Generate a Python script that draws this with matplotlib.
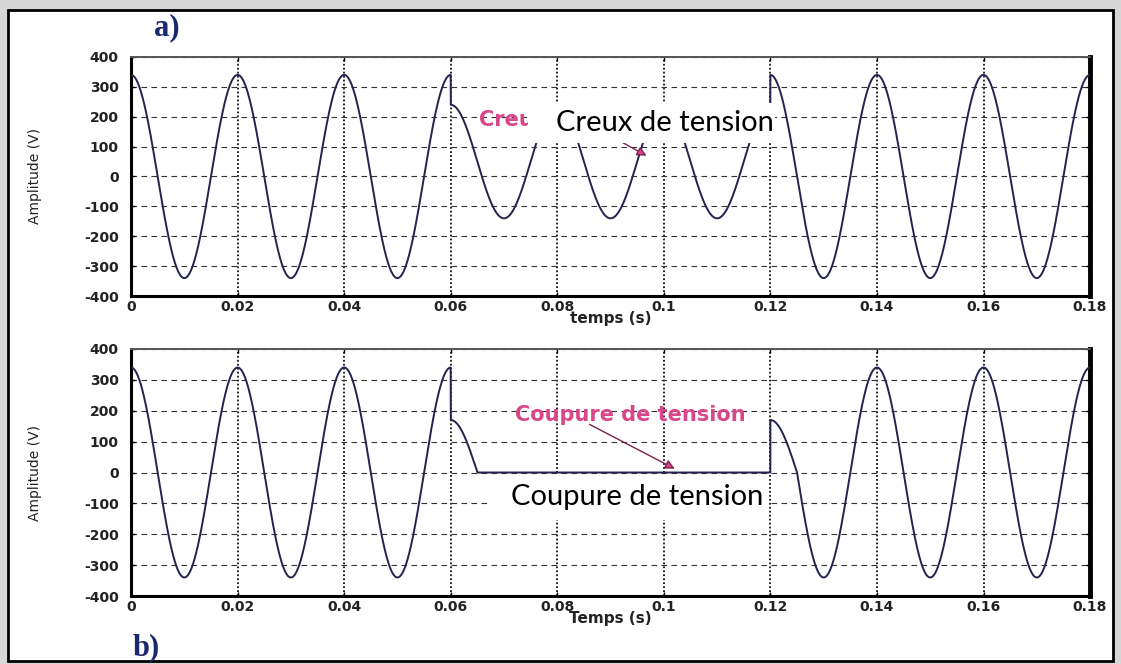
import numpy as np
import matplotlib
matplotlib.use("Agg")
import matplotlib.pyplot as plt
from matplotlib.patches import Rectangle

# signal: 50 Hz, piecewise amplitude / dc offset
FREQ = 50.0
T_END = 0.18

# a) creux de tension (sag between 0.06 and 0.12 s)
sag_edges = [0.0, 0.06, 0.12, 0.18]
sag_amp = [340, 190, 340]
sag_offset = [0, 50, 0]

# b) coupure de tension (interruption between ~0.065 and 0.12 s)
cut_edges = [0.0, 0.06, 0.065, 0.12, 0.125, 0.18]
cut_amp = [340, 170, 0, 170, 340]
cut_offset = [0, 0, 0, 0, 0]

xticks = [0, 0.02, 0.04, 0.06, 0.08, 0.1, 0.12, 0.14, 0.16, 0.18]
xticklabels = ["0", "0.02", "0.04", "0.06", "0.08", "0.1", "0.12", "0.14", "0.16", "0.18"]
yticks = [-400, -300, -200, -100, 0, 100, 200, 300, 400]

LINE_C = "#23234e"
PINK = "#d9468a"


def build_wave(edges, amps, offs):
    t = np.linspace(0, T_END, 18001)
    v = np.zeros_like(t)
    for i in range(len(amps)):
        lo, hi = edges[i], edges[i + 1]
        m = (t >= lo) & (t < hi) if i < len(amps) - 1 else (t >= lo) & (t <= hi)
        v[m] = offs[i] + amps[i] * np.cos(2 * np.pi * FREQ * t[m])
    return t, v


def style_axes(ax, xlabel):
    ax.set_xlim(0, T_END)
    ax.set_ylim(-400, 400)
    ax.set_xticks(xticks)
    ax.set_xticklabels(xticklabels)
    ax.set_yticks(yticks)
    ax.set_yticklabels([str(v) for v in yticks])
    ax.tick_params(direction="in", length=3, width=1, top=True, right=True,
                   labelsize=10, pad=3)
    ax.tick_params(axis="y", pad=9)
    for lab in ax.get_xticklabels() + ax.get_yticklabels():
        lab.set_fontweight("bold")
        lab.set_color("#222222")
    ax.xaxis.grid(True, linestyle=(0, (1, 1.2)), color="#111111", lw=1.3)
    ax.yaxis.grid(True, linestyle=(0, (5, 4)), color="#333333", lw=0.8)
    ax.set_axisbelow(True)
    ax.spines["left"].set_linewidth(2.2)
    ax.spines["bottom"].set_linewidth(2.2)
    ax.spines["top"].set_linewidth(1.4)
    ax.spines["top"].set_color("#555555")
    ax.spines["right"].set_linewidth(3.5)
    ax.set_xlabel(xlabel, fontsize=11, fontweight="bold", labelpad=-2, color="#222222")
    ax.set_ylabel("Amplitude (V)", fontsize=10, color="#222222")
    ax.yaxis.set_label_coords(-0.093, 0.5)


fig = plt.figure(figsize=(11.21, 6.64), dpi=100)
fig.patch.set_facecolor("#d6d6d6")
frame = Rectangle((0.0071, 0.0045), 0.9857, 0.980, transform=fig.transFigure,
                  facecolor="white", edgecolor="black", lw=2, zorder=-5)
fig.patches.append(frame)

ax1 = fig.add_axes([0.1169, 0.5542, 0.8555, 0.360], zorder=2)
ax2 = fig.add_axes([0.1169, 0.1024, 0.8555, 0.372], zorder=2)

t1, v1 = build_wave(sag_edges, sag_amp, sag_offset)
ax1.plot(t1, v1, color=LINE_C, lw=1.4, zorder=3)
style_axes(ax1, "temps (s)")

t2, v2 = build_wave(cut_edges, cut_amp, cut_offset)
ax2.plot(t2, v2, color=LINE_C, lw=1.4, zorder=3)
style_axes(ax2, "Temps (s)")

# a) annotation: original pink label partly covered by a white box
ax1.text(0.0653, 189, "Creux de tension", color=PINK, fontsize=15, fontweight="bold",
         ha="left", va="center", zorder=4)
ax1.annotate("", xy=(0.0972, 65), xytext=(0.086, 175),
             arrowprops=dict(arrowstyle="-|>", color="#7a2250", lw=1.0,
                             mutation_scale=14, fc=PINK), zorder=4)
ax1.add_patch(Rectangle((0.0745, 112), 0.1209 - 0.0745, 246 - 112,
                        facecolor="white", edgecolor="none", zorder=5))
ax1.text(0.1002, 179, "Creux de tension", fontsize=21, family="Lato",
         ha="center", va="center", color="black", zorder=6)

# b) annotation
ax2.text(0.0937, 186, "Coupure de tension", color=PINK, fontsize=15, fontweight="bold",
         ha="center", va="center", zorder=4)
ax2.annotate("", xy=(0.1025, 8), xytext=(0.0856, 160),
             arrowprops=dict(arrowstyle="-|>", color="#7a2250", lw=1.0,
                             mutation_scale=14, fc=PINK), zorder=4)
ax2.add_patch(Rectangle((0.0670, -154), 0.1194 - 0.0670, 146,
                        facecolor="white", edgecolor="none", zorder=5))
ax2.text(0.0950, -79, "Coupure de tension", fontsize=21, family="Lato",
         ha="center", va="center", color="black", zorder=6)

fig.text(0.149, 0.959, "a)", fontsize=22, fontweight="bold", family="Liberation Serif",
         color="#1b2a6e", ha="center", va="center")
fig.text(0.130, 0.024, "b)", fontsize=22, fontweight="bold", family="Liberation Serif",
         color="#1b2a6e", ha="center", va="center")

fig.savefig("out.png", dpi=100, facecolor=fig.get_facecolor())
